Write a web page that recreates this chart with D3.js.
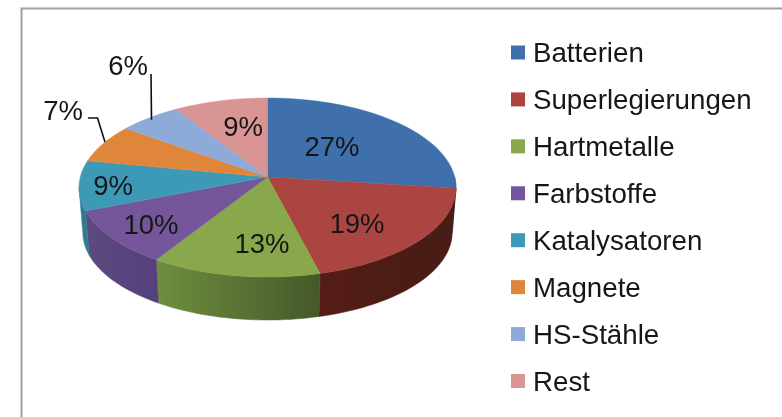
<!DOCTYPE html>
<html><head><meta charset="utf-8">
<script src="https://cdn.jsdelivr.net/npm/d3@7"></script>
<style>html,body{margin:0;padding:0;background:#fff}svg{display:block}text{font-family:"Liberation Sans",Arial,sans-serif;fill:#161616}</style>
</head><body><div id="chart"></div>
<script>
const categories = ["Batterien","Superlegierungen","Hartmetalle","Farbstoffe","Katalysatoren","Magnete","HS-Stähle","Rest"];
const values = [27,19,13,10,9,7,6,9];
const topColors = ["#3f70ab","#ab4542","#89a84c","#75579a","#3c9ab6","#e0863a","#8eaad8","#d99593"];
const sideLight = ["#2c4f78","#541d19","#6f8f3e","#5c4880","#2f7c92","#b06a2a","#7088ab","#ad7775"];
const sideDark = ["#2c4f78","#471a17","#45582a","#56417a","#2f7c92","#b06a2a","#7088ab","#ad7775"];
const labelPos = [[332,146],[357,223],[262,243],[151,224],[113,185],[63,110],[128,65],[243,126]];
const W=782,H=417;
const svg=d3.select("#chart").append("svg").attr("width",W).attr("height",H);
const defs=svg.append("defs");
defs.append("filter").attr("id","soft").attr("x","-5%").attr("y","-5%").attr("width","110%").attr("height","110%")
  .append("feGaussianBlur").attr("stdDeviation",0.55);

// perspective projection of a tilted disc
const cx=267.5, apexY=177, k=0.1173, A=88.3, B=187.2;
const bottomY=222, bottomScale=0.98;
function project(a,r=1,oy=apexY,s=1){
  const u=r*Math.sin(a), v=-r*Math.cos(a), d=1-k*v;
  return [cx+s*B*u/d, oy+s*A*v/d];
}
const arcs=d3.pie().sort(null).value(d=>d)(values);
const line=d3.line();
const sample=(a0,a1,oy,s)=>d3.range(0,41).map(i=>project(a0+(a1-a0)*i/40,1,oy,s));
const silhouette=Math.PI*1.5-Math.asin(k);
const g=svg.append("g").attr("filter","url(#soft)");

// frame
g.append("path").attr("d",line([[21.5,H+5],[21.5,8.5],[W+5,8.5]])).attr("fill","none").attr("stroke","#a0a0a0").attr("stroke-width",2);

// side walls
const visible=arcs.map((d,i)=>({i,a0:Math.max(d.startAngle,Math.PI/2),a1:Math.min(d.endAngle,silhouette)})).filter(d=>d.a1>d.a0);
visible.forEach(d=>{
  const p0=project(d.a0),p1=project(d.a1);
  const id="side"+d.i;
  const gr=defs.append("linearGradient").attr("id",id).attr("gradientUnits","userSpaceOnUse")
    .attr("x1",Math.min(p0[0],p1[0])).attr("x2",Math.max(p0[0],p1[0])).attr("y1",0).attr("y2",0);
  gr.append("stop").attr("offset",0).attr("stop-color",sideLight[d.i]);
  gr.append("stop").attr("offset",1).attr("stop-color",sideDark[d.i]);
  g.append("path").attr("d",line([...sample(d.a0,d.a1,apexY,1),...sample(d.a1,d.a0,bottomY,bottomScale)])+"Z")
    .attr("fill",`url(#${id})`).attr("stroke",`url(#${id})`).attr("stroke-width",0.5);
});

// top slices
g.selectAll("path.top").data(arcs).join("path").attr("class","top")
  .attr("d",d=>line([[cx,apexY],...sample(d.startAngle,d.endAngle,apexY,1)])+"Z")
  .attr("fill",(d,i)=>topColors[i]).attr("stroke",(d,i)=>topColors[i]).attr("stroke-width",0.4);

// leader lines
const mid=d=>(d.startAngle+d.endAngle)/2;
const leaders=[{i:5,pts:[[97.5,118],[88,118]]},{i:6,pts:[[151,74]]}];
leaders.forEach(l=>{
  const s=project(mid(arcs[l.i]));
  const start=l.i===6?[151.5,s[1]+2]:[105,142];
  g.append("path").attr("d",line([start,...l.pts])).attr("fill","none").attr("stroke","#111").attr("stroke-width",1.6);
});

// data labels
g.selectAll("text.val").data(values).join("text").attr("class","val")
  .attr("x",(d,i)=>labelPos[i][0]).attr("y",(d,i)=>labelPos[i][1]).attr("dy","0.36em")
  .attr("text-anchor","middle").attr("font-size",27.5).text(d=>d+"%");

// legend
const ly=d3.scalePoint().domain(categories).range([52.5,381]);
const leg=g.selectAll("g.leg").data(categories).join("g").attr("class","leg").attr("transform",d=>`translate(511,${ly(d)})`);
leg.append("rect").attr("y",-7).attr("width",14).attr("height",14).attr("fill",(d,i)=>topColors[i]);
leg.append("text").attr("x",22).attr("y",9.5).attr("font-size",27.7).text(d=>d);
</script></body></html>
